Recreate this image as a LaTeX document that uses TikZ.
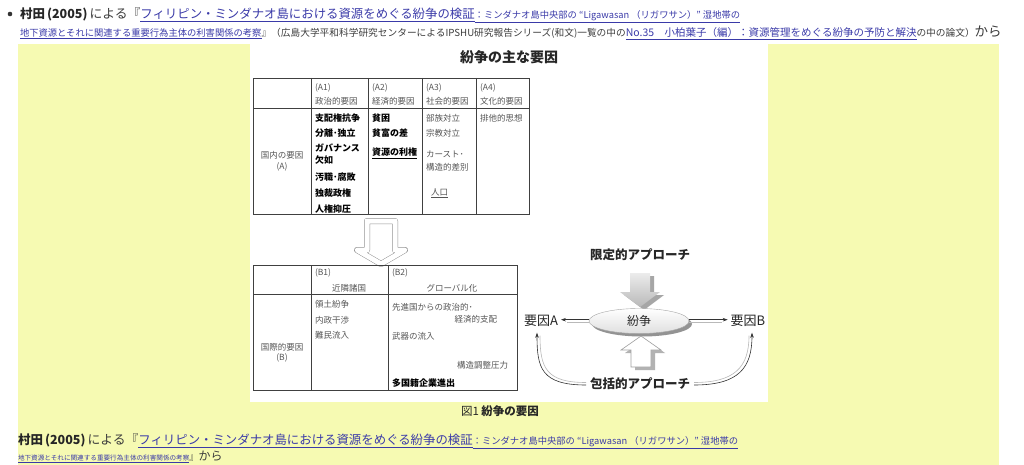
\documentclass[tikz,border=0pt]{standalone}
\usepackage{fontspec}
\setmainfont{Noto Sans CJK JP}
\usetikzlibrary{shapes.geometric,shadows,arrows.meta}
\definecolor{ylw}{RGB}{246,250,178}
\definecolor{linkc}{RGB}{58,58,168}
\definecolor{txt}{RGB}{60,60,60}
\definecolor{tbl}{RGB}{85,85,85}
\newcommand{\fsz}[1]{\fontsize{#1pt}{#1pt}\selectfont}
\begin{document}
\begin{tikzpicture}[x=1pt,y=-1pt,
  every node/.style={inner sep=0pt,outer sep=0pt},
  tl/.style={anchor=west,text=tbl,font=\fsz{8.5}},
  tlc/.style={text=tbl,font=\fsz{8.5}},
  tb/.style={anchor=west,text=black,font=\fsz{9}\bfseries},
  tline/.style={draw=black!75,line width=0.6pt},
  seg/.style={anchor=base west},
  big/.style={font=\fsz{12.8},text=txt},
  bigb/.style={font=\fsz{12.5}\bfseries,text=black!85},
  lk/.style={font=\fsz{9.3},text=linkc},
  lkbig/.style={font=\fsz{12.4},text=linkc},
  sm/.style={font=\fsz{9.7},text=txt},
  lab/.style={font=\fsz{12.5}\bfseries,text=black!85},
  darr/.style={black!80,line width=0.6pt,-{Stealth[length=5pt,width=3.5pt]}},
  larr/.style={gray!55,line width=0.6pt}]
\useasboundingbox (0,0) rectangle (1024,465);
\fill[ylw] (18,44) rectangle (999,465);
\fill[white] (250,43) rectangle (768,402);

% top text
\fill[black!80] (10,14) circle (2.3pt);
\node[seg,bigb] (t1a) at (20,18.5) {村田\,(2005)\,};
\node[seg,big] (t1b) at (t1a.base east) {による『};
\node[seg,lkbig] (t1c) at (t1b.base east) {\underline{フィリピン・ミンダナオ島における資源をめぐる紛争の検証}};
\node[seg,lk] (t1d) at (t1c.base east) {\underline{：ミンダナオ島中央部の “Ligawasan （リガワサン）” 湿地帯の}};
\node[seg,lk] (t2a) at (20,36.5) {\underline{地下資源とそれに関連する重要行為主体の利害関係の考察}};
\node[seg,sm] (t2b) at (t2a.base east) {』（広島大学平和科学研究センターによるIPSHU研究報告シリーズ(和文)一覧の中の};
\node[seg,lk,font=\fsz{10.5}] (t2c) at (t2b.base east) {\underline{No.35　小柏葉子（編）：資源管理をめぐる紛争の予防と解決}};
\node[seg,sm] (t2d) at (t2c.base east) {の中の論文）};
\node[seg,big,font=\fsz{13.5}] (t2e) at (t2d.base east) {から};

% title
\node[font=\fsz{14}\bfseries,text=black!85] (title) at (509,57) {紛争の主な要因};

% top table
\draw[tline] (253,78) rectangle (529,214);
\foreach \x in {311,368,422,476} \draw[tline] (\x,78) -- (\x,214);
\draw[tline] (253,108) -- (529,108);
\node[tl] (a1h) at (315,88) {(A1)};
\node[tl] (a1n) at (315,101) {政治的要因};
\node[tl] (a2h) at (372,88) {(A2)};
\node[tl] (a2n) at (372,101) {経済的要因};
\node[tl] (a3h) at (426,88) {(A3)};
\node[tl] (a3n) at (426,101) {社会的要因};
\node[tl] (a4h) at (480,88) {(A4)};
\node[tl] (a4n) at (480,101) {文化的要因};
\node[tlc] (ain) at (282,155) {国内の要因};
\node[tlc] (aia) at (282,167) {(A)};
\node[tb] (p1) at (315,118) {支配権抗争};
\node[tb] (p2) at (315,133) {分離･独立};
\node[tb] (p3) at (315,148) {ガバナンス};
\node[tb] (p4) at (315,160) {欠如};
\node[tb] (p5) at (315,177) {汚職･腐敗};
\node[tb] (p6) at (315,193) {独裁政権};
\node[tb] (p7) at (315,209) {人権抑圧};
\node[tb] (e1) at (372,118) {貧困};
\node[tb] (e2) at (372,133) {貧富の差};
\node[tb] (e3) at (372,153) {\underline{資源の利権}};
\node[tl] (s1) at (426,118) {部族対立};
\node[tl] (s2) at (426,133) {宗教対立};
\node[tl] (s3) at (426,154) {カースト･};
\node[tl] (s4) at (426,167) {構造的差別};
\node[tl] (s5) at (431,193) {\underline{人口}};
\node[tl] (c1) at (480,118) {排他的思想};

% hollow arrow between tables
\draw[gray!85,line width=0.5pt,double=white,double distance=5pt,line join=round]
  (367,221) -- (395,221) -- (395,250) -- (405,250) -- (381,264) -- (357,250) -- (367,250) -- cycle;

% bottom table
\draw[tline] (253,265) rectangle (517,390);
\draw[tline] (311,265) -- (311,390);
\draw[tline] (388,265) -- (388,390);
\draw[tline] (253,294) -- (517,294);
\node[tl] (b1h) at (315,273) {(B1)};
\node[tlc] (b1n) at (349,288) {近隣諸国};
\node[tl] (b2h) at (392,273) {(B2)};
\node[tlc] (b2n) at (452,288) {グローバル化};
\node[tlc] (bin) at (282,347) {国際的要因};
\node[tlc] (bib) at (282,358) {(B)};
\node[tl] (n1) at (315,304) {領土紛争};
\node[tl] (n2) at (315,320) {内政干渉};
\node[tl] (n3) at (315,335) {難民流入};
\node[tl] (g1) at (392,307) {先進国からの政治的･};
\node[tl,anchor=east] (g2) at (497,319) {経済的支配};
\node[tl] (g3) at (392,336) {武器の流入};
\node[tl,anchor=east] (g4) at (508,365) {構造調整圧力};
\node[tb] (g5) at (392,383) {多国籍企業進出};

% right diagram
\node[lab] (gen) at (640,255) {限定的アプローチ};
\fill[gray!70] (634,276) -- (654,276) -- (654,295) -- (664,295) -- (644,310) -- (624,295) -- (634,295) -- cycle;
\shade[top color=gray!15,bottom color=gray!55] (630,273) -- (650,273) -- (650,292) -- (660,292) -- (640,307) -- (620,292) -- (630,292) -- cycle;
\node[ellipse,draw=gray!70,minimum width=100pt,minimum height=25pt,top color=white,bottom color=gray!25,
  drop shadow={shadow xshift=3pt,shadow yshift=-3pt,fill=gray!85,opacity=1},font=\fsz{12},text=black!85] (fs) at (639,321) {紛争};
\node[font=\fsz{13},text=black!85] (ya) at (541,321) {要因A};
\node[font=\fsz{13},text=black!85] (yb) at (748,321) {要因B};
\draw[darr] ([yshift=1.3pt]fs.west) -- ([yshift=1.3pt,xshift=3pt]ya.east);
\draw[larr] ([yshift=-1.6pt]fs.west) -- ([yshift=-1.6pt,xshift=9pt]ya.east);
\draw[darr] ([yshift=1.3pt]fs.east) -- ([yshift=1.3pt,xshift=-3pt]yb.west);
\draw[larr] ([yshift=-1.6pt]fs.east) -- ([yshift=-1.6pt,xshift=-9pt]yb.west);
\fill[gray!60] (635,353) -- (625,353) -- (645,339) -- (665,353) -- (655,353) -- (655,370) -- (635,370) -- cycle;
\filldraw[fill=white,draw=gray!75,line width=0.6pt] (631,367) -- (631,350) -- (621,350) -- (641,336) -- (661,350) -- (651,350) -- (651,367) -- cycle;
\node[lab] (hk) at (640,384) {包括的アプローチ};
\draw[darr] ([xshift=-4pt,yshift=-1pt]hk.west) .. controls +(-45,0) and +(0,35) .. ([yshift=-6pt,xshift=-4pt]ya.south);
\draw[larr] ([xshift=-4pt,yshift=1.5pt]hk.west) .. controls +(-40,0) and +(0,32) .. ([yshift=-9pt,xshift=-1pt]ya.south);
\draw[darr] ([xshift=4pt,yshift=-1pt]hk.east) .. controls +(45,0) and +(0,35) .. ([yshift=-6pt,xshift=4pt]yb.south);
\draw[larr] ([xshift=4pt,yshift=1.5pt]hk.east) .. controls +(40,0) and +(0,32) .. ([yshift=-9pt,xshift=1pt]yb.south);

% caption
\node[font=\fsz{11.5},text=black!85] (cap) at (500,411) {図1 {\bfseries 紛争の要因}};

% bottom text
\node[seg,bigb] (b1a) at (18,444.5) {村田\,(2005)\,};
\node[seg,big] (b1b) at (b1a.base east) {による『};
\node[seg,lkbig] (b1c) at (b1b.base east) {\underline{フィリピン・ミンダナオ島における資源をめぐる紛争の検証}};
\node[seg,lk] (b1d) at (b1c.base east) {\underline{：ミンダナオ島中央部の “Ligawasan （リガワサン）” 湿地帯の}};
\node[seg,font=\fsz{6.6},text=linkc] (b2a) at (18,460) {\underline{地下資源とそれに関連する重要行為主体の利害関係の考察}};
\node[seg,font=\fsz{9.3},text=txt] (b2b) at (b2a.base east) {』};
\node[seg,font=\fsz{12},text=txt] (b2c) at (b2b.base east) {から};
\end{tikzpicture}
\end{document}
